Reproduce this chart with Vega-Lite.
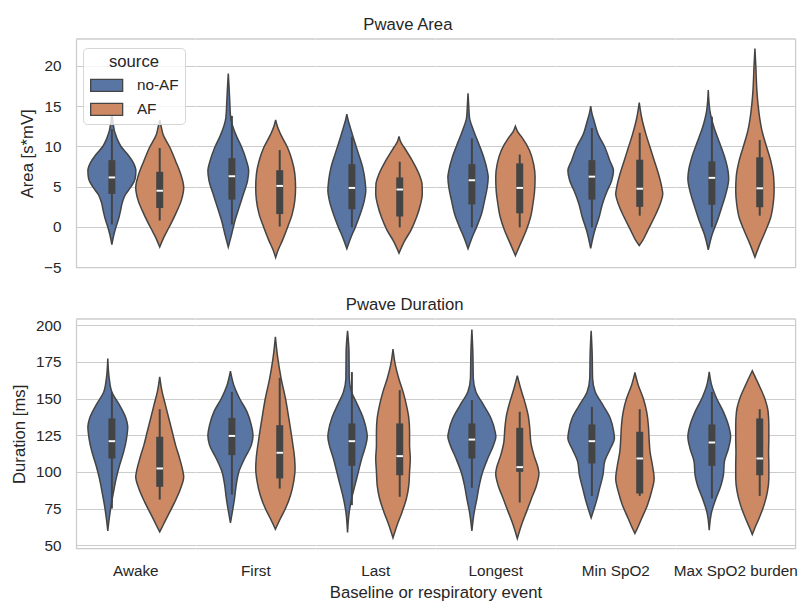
{
  "$schema": "https://vega.github.io/schema/vega-lite/v6.json",
  "background": "white",
  "autosize": {"type": "pad"},
  "padding": {"left": 11, "top": 17, "right": 5, "bottom": 0},
  "data": {"values": [
    {"panel":"Area","event":"Awake","source":"no-AF","value":15.0,"density":0},
    {"panel":"Area","event":"Awake","source":"no-AF","value":13,"density":0.04},
    {"panel":"Area","event":"Awake","source":"no-AF","value":11,"density":0.21},
    {"panel":"Area","event":"Awake","source":"no-AF","value":10,"density":0.38},
    {"panel":"Area","event":"Awake","source":"no-AF","value":9,"density":0.66},
    {"panel":"Area","event":"Awake","source":"no-AF","value":8,"density":0.89},
    {"panel":"Area","event":"Awake","source":"no-AF","value":7,"density":1.0},
    {"panel":"Area","event":"Awake","source":"no-AF","value":6,"density":0.97},
    {"panel":"Area","event":"Awake","source":"no-AF","value":5,"density":0.80},
    {"panel":"Area","event":"Awake","source":"no-AF","value":4,"density":0.56},
    {"panel":"Area","event":"Awake","source":"no-AF","value":3,"density":0.43},
    {"panel":"Area","event":"Awake","source":"no-AF","value":2,"density":0.36},
    {"panel":"Area","event":"Awake","source":"no-AF","value":1,"density":0.28},
    {"panel":"Area","event":"Awake","source":"no-AF","value":0,"density":0.17},
    {"panel":"Area","event":"Awake","source":"no-AF","value":-1,"density":0.08},
    {"panel":"Area","event":"Awake","source":"no-AF","value":-2.2,"density":0},
    {"panel":"Area","event":"Awake","source":"AF","value":13.3,"density":0},
    {"panel":"Area","event":"Awake","source":"AF","value":12.5,"density":0.06},
    {"panel":"Area","event":"Awake","source":"AF","value":11.5,"density":0.14},
    {"panel":"Area","event":"Awake","source":"AF","value":9.9,"density":0.42},
    {"panel":"Area","event":"Awake","source":"AF","value":8.2,"density":0.66},
    {"panel":"Area","event":"Awake","source":"AF","value":6.6,"density":0.87},
    {"panel":"Area","event":"Awake","source":"AF","value":4.9,"density":1.0},
    {"panel":"Area","event":"Awake","source":"AF","value":3.3,"density":0.90},
    {"panel":"Area","event":"Awake","source":"AF","value":1.6,"density":0.66},
    {"panel":"Area","event":"Awake","source":"AF","value":-0.1,"density":0.38},
    {"panel":"Area","event":"Awake","source":"AF","value":-1.3,"density":0.17},
    {"panel":"Area","event":"Awake","source":"AF","value":-2.5,"density":0},
    {"panel":"Area","event":"First","source":"no-AF","value":19.05,"density":0},
    {"panel":"Area","event":"First","source":"no-AF","value":17.5,"density":0.03},
    {"panel":"Area","event":"First","source":"no-AF","value":15.7,"density":0.06},
    {"panel":"Area","event":"First","source":"no-AF","value":13.6,"density":0.10},
    {"panel":"Area","event":"First","source":"no-AF","value":11.5,"density":0.31},
    {"panel":"Area","event":"First","source":"no-AF","value":9.9,"density":0.56},
    {"panel":"Area","event":"First","source":"no-AF","value":8.2,"density":0.76},
    {"panel":"Area","event":"First","source":"no-AF","value":7.0,"density":0.85},
    {"panel":"Area","event":"First","source":"no-AF","value":5.7,"density":0.80},
    {"panel":"Area","event":"First","source":"no-AF","value":4.1,"density":0.63},
    {"panel":"Area","event":"First","source":"no-AF","value":2.4,"density":0.45},
    {"panel":"Area","event":"First","source":"no-AF","value":0.8,"density":0.28},
    {"panel":"Area","event":"First","source":"no-AF","value":-0.9,"density":0.14},
    {"panel":"Area","event":"First","source":"no-AF","value":-2.5,"density":0},
    {"panel":"Area","event":"First","source":"AF","value":13.3,"density":0},
    {"panel":"Area","event":"First","source":"AF","value":12.5,"density":0.07},
    {"panel":"Area","event":"First","source":"AF","value":11.5,"density":0.21},
    {"panel":"Area","event":"First","source":"AF","value":9.9,"density":0.49},
    {"panel":"Area","event":"First","source":"AF","value":8.2,"density":0.69},
    {"panel":"Area","event":"First","source":"AF","value":6.6,"density":0.80},
    {"panel":"Area","event":"First","source":"AF","value":4.9,"density":0.83},
    {"panel":"Area","event":"First","source":"AF","value":3.3,"density":0.80},
    {"panel":"Area","event":"First","source":"AF","value":1.6,"density":0.69},
    {"panel":"Area","event":"First","source":"AF","value":-0.1,"density":0.49},
    {"panel":"Area","event":"First","source":"AF","value":-1.7,"density":0.28},
    {"panel":"Area","event":"First","source":"AF","value":-2.9,"density":0.10},
    {"panel":"Area","event":"First","source":"AF","value":-3.8,"density":0},
    {"panel":"Area","event":"Last","source":"no-AF","value":14.0,"density":0},
    {"panel":"Area","event":"Last","source":"no-AF","value":13.2,"density":0.06},
    {"panel":"Area","event":"Last","source":"no-AF","value":12.4,"density":0.14},
    {"panel":"Area","event":"Last","source":"no-AF","value":10.7,"density":0.31},
    {"panel":"Area","event":"Last","source":"no-AF","value":9.05,"density":0.49},
    {"panel":"Area","event":"Last","source":"no-AF","value":7.4,"density":0.66},
    {"panel":"Area","event":"Last","source":"no-AF","value":5.7,"density":0.76},
    {"panel":"Area","event":"Last","source":"no-AF","value":4.5,"density":0.79},
    {"panel":"Area","event":"Last","source":"no-AF","value":3.3,"density":0.73},
    {"panel":"Area","event":"Last","source":"no-AF","value":1.6,"density":0.56},
    {"panel":"Area","event":"Last","source":"no-AF","value":-0.05,"density":0.35},
    {"panel":"Area","event":"Last","source":"no-AF","value":-1.3,"density":0.17},
    {"panel":"Area","event":"Last","source":"no-AF","value":-2.7,"density":0},
    {"panel":"Area","event":"Last","source":"AF","value":11.25,"density":0},
    {"panel":"Area","event":"Last","source":"AF","value":10.5,"density":0.08},
    {"panel":"Area","event":"Last","source":"AF","value":9.9,"density":0.21},
    {"panel":"Area","event":"Last","source":"AF","value":8.2,"density":0.56},
    {"panel":"Area","event":"Last","source":"AF","value":6.6,"density":0.83},
    {"panel":"Area","event":"Last","source":"AF","value":5.3,"density":0.96},
    {"panel":"Area","event":"Last","source":"AF","value":4.1,"density":0.97},
    {"panel":"Area","event":"Last","source":"AF","value":2.85,"density":0.90},
    {"panel":"Area","event":"Last","source":"AF","value":1.2,"density":0.73},
    {"panel":"Area","event":"Last","source":"AF","value":-0.45,"density":0.49},
    {"panel":"Area","event":"Last","source":"AF","value":-1.7,"density":0.24},
    {"panel":"Area","event":"Last","source":"AF","value":-3.25,"density":0},
    {"panel":"Area","event":"Longest","source":"no-AF","value":16.6,"density":0},
    {"panel":"Area","event":"Longest","source":"no-AF","value":15,"density":0.03},
    {"panel":"Area","event":"Longest","source":"no-AF","value":13.6,"density":0.06},
    {"panel":"Area","event":"Longest","source":"no-AF","value":11.9,"density":0.24},
    {"panel":"Area","event":"Longest","source":"no-AF","value":10.3,"density":0.45},
    {"panel":"Area","event":"Longest","source":"no-AF","value":8.6,"density":0.66},
    {"panel":"Area","event":"Longest","source":"no-AF","value":7.0,"density":0.80},
    {"panel":"Area","event":"Longest","source":"no-AF","value":6.2,"density":0.84},
    {"panel":"Area","event":"Longest","source":"no-AF","value":4.9,"density":0.80},
    {"panel":"Area","event":"Longest","source":"no-AF","value":3.3,"density":0.69},
    {"panel":"Area","event":"Longest","source":"no-AF","value":1.6,"density":0.56},
    {"panel":"Area","event":"Longest","source":"no-AF","value":-0.05,"density":0.35},
    {"panel":"Area","event":"Longest","source":"no-AF","value":-1.3,"density":0.17},
    {"panel":"Area","event":"Longest","source":"no-AF","value":-2.7,"density":0},
    {"panel":"Area","event":"Longest","source":"AF","value":12.5,"density":0},
    {"panel":"Area","event":"Longest","source":"AF","value":11.8,"density":0.10},
    {"panel":"Area","event":"Longest","source":"AF","value":11.1,"density":0.28},
    {"panel":"Area","event":"Longest","source":"AF","value":9.5,"density":0.59},
    {"panel":"Area","event":"Longest","source":"AF","value":7.8,"density":0.76},
    {"panel":"Area","event":"Longest","source":"AF","value":6.2,"density":0.82},
    {"panel":"Area","event":"Longest","source":"AF","value":4.5,"density":0.80},
    {"panel":"Area","event":"Longest","source":"AF","value":2.85,"density":0.73},
    {"panel":"Area","event":"Longest","source":"AF","value":1.2,"density":0.63},
    {"panel":"Area","event":"Longest","source":"AF","value":-0.45,"density":0.45},
    {"panel":"Area","event":"Longest","source":"AF","value":-2.1,"density":0.21},
    {"panel":"Area","event":"Longest","source":"AF","value":-3.55,"density":0},
    {"panel":"Area","event":"Min SpO2","source":"no-AF","value":15.0,"density":0},
    {"panel":"Area","event":"Min SpO2","source":"no-AF","value":14,"density":0.06},
    {"panel":"Area","event":"Min SpO2","source":"no-AF","value":13.2,"density":0.14},
    {"panel":"Area","event":"Min SpO2","source":"no-AF","value":11.5,"density":0.31},
    {"panel":"Area","event":"Min SpO2","source":"no-AF","value":9.9,"density":0.59},
    {"panel":"Area","event":"Min SpO2","source":"no-AF","value":8.2,"density":0.80},
    {"panel":"Area","event":"Min SpO2","source":"no-AF","value":7.0,"density":0.95},
    {"panel":"Area","event":"Min SpO2","source":"no-AF","value":5.7,"density":0.87},
    {"panel":"Area","event":"Min SpO2","source":"no-AF","value":4.5,"density":0.69},
    {"panel":"Area","event":"Min SpO2","source":"no-AF","value":2.85,"density":0.49},
    {"panel":"Area","event":"Min SpO2","source":"no-AF","value":1.2,"density":0.35},
    {"panel":"Area","event":"Min SpO2","source":"no-AF","value":-0.45,"density":0.17},
    {"panel":"Area","event":"Min SpO2","source":"no-AF","value":-2.65,"density":0},
    {"panel":"Area","event":"Min SpO2","source":"AF","value":15.45,"density":0},
    {"panel":"Area","event":"Min SpO2","source":"AF","value":13.6,"density":0.10},
    {"panel":"Area","event":"Min SpO2","source":"AF","value":11.5,"density":0.28},
    {"panel":"Area","event":"Min SpO2","source":"AF","value":9.9,"density":0.45},
    {"panel":"Area","event":"Min SpO2","source":"AF","value":8.2,"density":0.63},
    {"panel":"Area","event":"Min SpO2","source":"AF","value":6.6,"density":0.80},
    {"panel":"Area","event":"Min SpO2","source":"AF","value":4.9,"density":0.94},
    {"panel":"Area","event":"Min SpO2","source":"AF","value":4.1,"density":0.98},
    {"panel":"Area","event":"Min SpO2","source":"AF","value":2.85,"density":0.87},
    {"panel":"Area","event":"Min SpO2","source":"AF","value":1.2,"density":0.63},
    {"panel":"Area","event":"Min SpO2","source":"AF","value":-0.45,"density":0.35},
    {"panel":"Area","event":"Min SpO2","source":"AF","value":-1.7,"density":0.14},
    {"panel":"Area","event":"Min SpO2","source":"AF","value":-2.3,"density":0},
    {"panel":"Area","event":"Max SpO2 burden","source":"no-AF","value":17.0,"density":0},
    {"panel":"Area","event":"Max SpO2 burden","source":"no-AF","value":14.4,"density":0.07},
    {"panel":"Area","event":"Max SpO2 burden","source":"no-AF","value":12.35,"density":0.24},
    {"panel":"Area","event":"Max SpO2 burden","source":"no-AF","value":10.3,"density":0.49},
    {"panel":"Area","event":"Max SpO2 burden","source":"no-AF","value":8.6,"density":0.69},
    {"panel":"Area","event":"Max SpO2 burden","source":"no-AF","value":7.0,"density":0.82},
    {"panel":"Area","event":"Max SpO2 burden","source":"no-AF","value":6.0,"density":0.85},
    {"panel":"Area","event":"Max SpO2 burden","source":"no-AF","value":4.1,"density":0.73},
    {"panel":"Area","event":"Max SpO2 burden","source":"no-AF","value":2.45,"density":0.56},
    {"panel":"Area","event":"Max SpO2 burden","source":"no-AF","value":0.8,"density":0.38},
    {"panel":"Area","event":"Max SpO2 burden","source":"no-AF","value":-0.85,"density":0.17},
    {"panel":"Area","event":"Max SpO2 burden","source":"no-AF","value":-2.85,"density":0},
    {"panel":"Area","event":"Max SpO2 burden","source":"AF","value":22.15,"density":0},
    {"panel":"Area","event":"Max SpO2 burden","source":"AF","value":19.8,"density":0.04},
    {"panel":"Area","event":"Max SpO2 burden","source":"AF","value":17,"density":0.08},
    {"panel":"Area","event":"Max SpO2 burden","source":"AF","value":15.2,"density":0.13},
    {"panel":"Area","event":"Max SpO2 burden","source":"AF","value":13.5,"density":0.20},
    {"panel":"Area","event":"Max SpO2 burden","source":"AF","value":12,"density":0.29},
    {"panel":"Area","event":"Max SpO2 burden","source":"AF","value":10.3,"density":0.45},
    {"panel":"Area","event":"Max SpO2 burden","source":"AF","value":8.2,"density":0.66},
    {"panel":"Area","event":"Max SpO2 burden","source":"AF","value":6.2,"density":0.78},
    {"panel":"Area","event":"Max SpO2 burden","source":"AF","value":4.5,"density":0.80},
    {"panel":"Area","event":"Max SpO2 burden","source":"AF","value":2.85,"density":0.76},
    {"panel":"Area","event":"Max SpO2 burden","source":"AF","value":1.2,"density":0.66},
    {"panel":"Area","event":"Max SpO2 burden","source":"AF","value":-0.45,"density":0.45},
    {"panel":"Area","event":"Max SpO2 burden","source":"AF","value":-2.1,"density":0.21},
    {"panel":"Area","event":"Max SpO2 burden","source":"AF","value":-3.75,"density":0},
    {"panel":"Duration","event":"Awake","source":"no-AF","value":177.3,"density":0},
    {"panel":"Duration","event":"Awake","source":"no-AF","value":163.6,"density":0.06},
    {"panel":"Duration","event":"Awake","source":"no-AF","value":154.5,"density":0.17},
    {"panel":"Duration","event":"Awake","source":"no-AF","value":145.5,"density":0.49},
    {"panel":"Duration","event":"Awake","source":"no-AF","value":136.4,"density":0.76},
    {"panel":"Duration","event":"Awake","source":"no-AF","value":130.7,"density":0.83},
    {"panel":"Duration","event":"Awake","source":"no-AF","value":122.7,"density":0.78},
    {"panel":"Duration","event":"Awake","source":"no-AF","value":113.6,"density":0.66},
    {"panel":"Duration","event":"Awake","source":"no-AF","value":104.5,"density":0.49},
    {"panel":"Duration","event":"Awake","source":"no-AF","value":95.5,"density":0.35},
    {"panel":"Duration","event":"Awake","source":"no-AF","value":86.4,"density":0.24},
    {"panel":"Duration","event":"Awake","source":"no-AF","value":77.3,"density":0.14},
    {"panel":"Duration","event":"Awake","source":"no-AF","value":68.2,"density":0.06},
    {"panel":"Duration","event":"Awake","source":"no-AF","value":59.8,"density":0},
    {"panel":"Duration","event":"Awake","source":"AF","value":164.8,"density":0},
    {"panel":"Duration","event":"Awake","source":"AF","value":154.5,"density":0.10},
    {"panel":"Duration","event":"Awake","source":"AF","value":145.5,"density":0.24},
    {"panel":"Duration","event":"Awake","source":"AF","value":136.4,"density":0.38},
    {"panel":"Duration","event":"Awake","source":"AF","value":127.3,"density":0.52},
    {"panel":"Duration","event":"Awake","source":"AF","value":118.2,"density":0.66},
    {"panel":"Duration","event":"Awake","source":"AF","value":109.1,"density":0.83},
    {"panel":"Duration","event":"Awake","source":"AF","value":100,"density":0.97},
    {"panel":"Duration","event":"Awake","source":"AF","value":96.6,"density":1.0},
    {"panel":"Duration","event":"Awake","source":"AF","value":88.6,"density":0.87},
    {"panel":"Duration","event":"Awake","source":"AF","value":79.5,"density":0.63},
    {"panel":"Duration","event":"Awake","source":"AF","value":70.5,"density":0.35},
    {"panel":"Duration","event":"Awake","source":"AF","value":63.6,"density":0.14},
    {"panel":"Duration","event":"Awake","source":"AF","value":59.1,"density":0},
    {"panel":"Duration","event":"First","source":"no-AF","value":168.6,"density":0},
    {"panel":"Duration","event":"First","source":"no-AF","value":159.1,"density":0.14},
    {"panel":"Duration","event":"First","source":"no-AF","value":150,"density":0.38},
    {"panel":"Duration","event":"First","source":"no-AF","value":140.9,"density":0.69},
    {"panel":"Duration","event":"First","source":"no-AF","value":131.8,"density":0.87},
    {"panel":"Duration","event":"First","source":"no-AF","value":125,"density":0.94},
    {"panel":"Duration","event":"First","source":"no-AF","value":118.2,"density":0.87},
    {"panel":"Duration","event":"First","source":"no-AF","value":109.1,"density":0.59},
    {"panel":"Duration","event":"First","source":"no-AF","value":100,"density":0.35},
    {"panel":"Duration","event":"First","source":"no-AF","value":90.9,"density":0.24},
    {"panel":"Duration","event":"First","source":"no-AF","value":81.8,"density":0.17},
    {"panel":"Duration","event":"First","source":"no-AF","value":72.7,"density":0.08},
    {"panel":"Duration","event":"First","source":"no-AF","value":65.2,"density":0},
    {"panel":"Duration","event":"First","source":"AF","value":192,"density":0},
    {"panel":"Duration","event":"First","source":"AF","value":177.3,"density":0.10},
    {"panel":"Duration","event":"First","source":"AF","value":163.6,"density":0.24},
    {"panel":"Duration","event":"First","source":"AF","value":150,"density":0.42},
    {"panel":"Duration","event":"First","source":"AF","value":136.4,"density":0.56},
    {"panel":"Duration","event":"First","source":"AF","value":122.7,"density":0.69},
    {"panel":"Duration","event":"First","source":"AF","value":109.1,"density":0.80},
    {"panel":"Duration","event":"First","source":"AF","value":102.3,"density":0.82},
    {"panel":"Duration","event":"First","source":"AF","value":93.2,"density":0.76},
    {"panel":"Duration","event":"First","source":"AF","value":84.1,"density":0.63},
    {"panel":"Duration","event":"First","source":"AF","value":75,"density":0.42},
    {"panel":"Duration","event":"First","source":"AF","value":68.2,"density":0.21},
    {"panel":"Duration","event":"First","source":"AF","value":60.9,"density":0},
    {"panel":"Duration","event":"Last","source":"no-AF","value":196.1,"density":0},
    {"panel":"Duration","event":"Last","source":"no-AF","value":181.8,"density":0.06},
    {"panel":"Duration","event":"Last","source":"no-AF","value":163.6,"density":0.07},
    {"panel":"Duration","event":"Last","source":"no-AF","value":154.5,"density":0.17},
    {"panel":"Duration","event":"Last","source":"no-AF","value":145.5,"density":0.42},
    {"panel":"Duration","event":"Last","source":"no-AF","value":136.4,"density":0.66},
    {"panel":"Duration","event":"Last","source":"no-AF","value":127.3,"density":0.80},
    {"panel":"Duration","event":"Last","source":"no-AF","value":123.9,"density":0.82},
    {"panel":"Duration","event":"Last","source":"no-AF","value":118.2,"density":0.76},
    {"panel":"Duration","event":"Last","source":"no-AF","value":109.1,"density":0.59},
    {"panel":"Duration","event":"Last","source":"no-AF","value":100,"density":0.45},
    {"panel":"Duration","event":"Last","source":"no-AF","value":90.9,"density":0.31},
    {"panel":"Duration","event":"Last","source":"no-AF","value":81.8,"density":0.17},
    {"panel":"Duration","event":"Last","source":"no-AF","value":72.7,"density":0.07},
    {"panel":"Duration","event":"Last","source":"no-AF","value":58.6,"density":0},
    {"panel":"Duration","event":"Last","source":"AF","value":183.6,"density":0},
    {"panel":"Duration","event":"Last","source":"AF","value":172.7,"density":0.10},
    {"panel":"Duration","event":"Last","source":"AF","value":163.6,"density":0.24},
    {"panel":"Duration","event":"Last","source":"AF","value":154.5,"density":0.42},
    {"panel":"Duration","event":"Last","source":"AF","value":145.5,"density":0.56},
    {"panel":"Duration","event":"Last","source":"AF","value":136.4,"density":0.66},
    {"panel":"Duration","event":"Last","source":"AF","value":127.3,"density":0.69},
    {"panel":"Duration","event":"Last","source":"AF","value":118.2,"density":0.69},
    {"panel":"Duration","event":"Last","source":"AF","value":109.1,"density":0.72},
    {"panel":"Duration","event":"Last","source":"AF","value":100,"density":0.69},
    {"panel":"Duration","event":"Last","source":"AF","value":90.9,"density":0.66},
    {"panel":"Duration","event":"Last","source":"AF","value":81.8,"density":0.56},
    {"panel":"Duration","event":"Last","source":"AF","value":72.7,"density":0.38},
    {"panel":"Duration","event":"Last","source":"AF","value":63.6,"density":0.17},
    {"panel":"Duration","event":"Last","source":"AF","value":55,"density":0},
    {"panel":"Duration","event":"Longest","source":"no-AF","value":197,"density":0},
    {"panel":"Duration","event":"Longest","source":"no-AF","value":181.8,"density":0.04},
    {"panel":"Duration","event":"Longest","source":"no-AF","value":163.6,"density":0.06},
    {"panel":"Duration","event":"Longest","source":"no-AF","value":154.5,"density":0.17},
    {"panel":"Duration","event":"Longest","source":"no-AF","value":145.5,"density":0.49},
    {"panel":"Duration","event":"Longest","source":"no-AF","value":136.4,"density":0.80},
    {"panel":"Duration","event":"Longest","source":"no-AF","value":127.3,"density":0.97},
    {"panel":"Duration","event":"Longest","source":"no-AF","value":123.9,"density":1.0},
    {"panel":"Duration","event":"Longest","source":"no-AF","value":118.2,"density":0.90},
    {"panel":"Duration","event":"Longest","source":"no-AF","value":109.1,"density":0.66},
    {"panel":"Duration","event":"Longest","source":"no-AF","value":100,"density":0.45},
    {"panel":"Duration","event":"Longest","source":"no-AF","value":90.9,"density":0.31},
    {"panel":"Duration","event":"Longest","source":"no-AF","value":81.8,"density":0.21},
    {"panel":"Duration","event":"Longest","source":"no-AF","value":72.7,"density":0.10},
    {"panel":"Duration","event":"Longest","source":"no-AF","value":59.8,"density":0},
    {"panel":"Duration","event":"Longest","source":"AF","value":165.5,"density":0},
    {"panel":"Duration","event":"Longest","source":"AF","value":156.8,"density":0.14},
    {"panel":"Duration","event":"Longest","source":"AF","value":147.7,"density":0.31},
    {"panel":"Duration","event":"Longest","source":"AF","value":138.6,"density":0.45},
    {"panel":"Duration","event":"Longest","source":"AF","value":129.5,"density":0.52},
    {"panel":"Duration","event":"Longest","source":"AF","value":120.5,"density":0.56},
    {"panel":"Duration","event":"Longest","source":"AF","value":111.4,"density":0.69},
    {"panel":"Duration","event":"Longest","source":"AF","value":102.3,"density":0.87},
    {"panel":"Duration","event":"Longest","source":"AF","value":98.9,"density":0.90},
    {"panel":"Duration","event":"Longest","source":"AF","value":90.9,"density":0.80},
    {"panel":"Duration","event":"Longest","source":"AF","value":81.8,"density":0.59},
    {"panel":"Duration","event":"Longest","source":"AF","value":72.7,"density":0.38},
    {"panel":"Duration","event":"Longest","source":"AF","value":63.6,"density":0.17},
    {"panel":"Duration","event":"Longest","source":"AF","value":54.5,"density":0},
    {"panel":"Duration","event":"Min SpO2","source":"no-AF","value":196.1,"density":0},
    {"panel":"Duration","event":"Min SpO2","source":"no-AF","value":181.8,"density":0.04},
    {"panel":"Duration","event":"Min SpO2","source":"no-AF","value":163.6,"density":0.06},
    {"panel":"Duration","event":"Min SpO2","source":"no-AF","value":154.5,"density":0.17},
    {"panel":"Duration","event":"Min SpO2","source":"no-AF","value":145.5,"density":0.49},
    {"panel":"Duration","event":"Min SpO2","source":"no-AF","value":136.4,"density":0.80},
    {"panel":"Duration","event":"Min SpO2","source":"no-AF","value":127.3,"density":0.94},
    {"panel":"Duration","event":"Min SpO2","source":"no-AF","value":122.7,"density":0.97},
    {"panel":"Duration","event":"Min SpO2","source":"no-AF","value":115.9,"density":0.80},
    {"panel":"Duration","event":"Min SpO2","source":"no-AF","value":106.8,"density":0.56},
    {"panel":"Duration","event":"Min SpO2","source":"no-AF","value":97.7,"density":0.49},
    {"panel":"Duration","event":"Min SpO2","source":"no-AF","value":88.6,"density":0.35},
    {"panel":"Duration","event":"Min SpO2","source":"no-AF","value":79.5,"density":0.21},
    {"panel":"Duration","event":"Min SpO2","source":"no-AF","value":72.7,"density":0.08},
    {"panel":"Duration","event":"Min SpO2","source":"no-AF","value":68.6,"density":0},
    {"panel":"Duration","event":"Min SpO2","source":"AF","value":167.7,"density":0},
    {"panel":"Duration","event":"Min SpO2","source":"AF","value":159.1,"density":0.14},
    {"panel":"Duration","event":"Min SpO2","source":"AF","value":150,"density":0.35},
    {"panel":"Duration","event":"Min SpO2","source":"AF","value":140.9,"density":0.49},
    {"panel":"Duration","event":"Min SpO2","source":"AF","value":131.8,"density":0.56},
    {"panel":"Duration","event":"Min SpO2","source":"AF","value":122.7,"density":0.59},
    {"panel":"Duration","event":"Min SpO2","source":"AF","value":113.6,"density":0.63},
    {"panel":"Duration","event":"Min SpO2","source":"AF","value":104.5,"density":0.73},
    {"panel":"Duration","event":"Min SpO2","source":"AF","value":95.5,"density":0.80},
    {"panel":"Duration","event":"Min SpO2","source":"AF","value":86.4,"density":0.69},
    {"panel":"Duration","event":"Min SpO2","source":"AF","value":77.3,"density":0.52},
    {"panel":"Duration","event":"Min SpO2","source":"AF","value":68.2,"density":0.28},
    {"panel":"Duration","event":"Min SpO2","source":"AF","value":61.4,"density":0.10},
    {"panel":"Duration","event":"Min SpO2","source":"AF","value":58,"density":0},
    {"panel":"Duration","event":"Max SpO2 burden","source":"no-AF","value":168.2,"density":0},
    {"panel":"Duration","event":"Max SpO2 burden","source":"no-AF","value":159.1,"density":0.10},
    {"panel":"Duration","event":"Max SpO2 burden","source":"no-AF","value":150,"density":0.31},
    {"panel":"Duration","event":"Max SpO2 burden","source":"no-AF","value":140.9,"density":0.59},
    {"panel":"Duration","event":"Max SpO2 burden","source":"no-AF","value":131.8,"density":0.80},
    {"panel":"Duration","event":"Max SpO2 burden","source":"no-AF","value":123.9,"density":0.89},
    {"panel":"Duration","event":"Max SpO2 burden","source":"no-AF","value":115.9,"density":0.80},
    {"panel":"Duration","event":"Max SpO2 burden","source":"no-AF","value":106.8,"density":0.63},
    {"panel":"Duration","event":"Max SpO2 burden","source":"no-AF","value":97.7,"density":0.59},
    {"panel":"Duration","event":"Max SpO2 burden","source":"no-AF","value":90.9,"density":0.49},
    {"panel":"Duration","event":"Max SpO2 burden","source":"no-AF","value":81.8,"density":0.28},
    {"panel":"Duration","event":"Max SpO2 burden","source":"no-AF","value":72.7,"density":0.10},
    {"panel":"Duration","event":"Max SpO2 burden","source":"no-AF","value":60.2,"density":0},
    {"panel":"Duration","event":"Max SpO2 burden","source":"AF","value":168.9,"density":0},
    {"panel":"Duration","event":"Max SpO2 burden","source":"AF","value":159.1,"density":0.28},
    {"panel":"Duration","event":"Max SpO2 burden","source":"AF","value":150,"density":0.52},
    {"panel":"Duration","event":"Max SpO2 burden","source":"AF","value":140.9,"density":0.66},
    {"panel":"Duration","event":"Max SpO2 burden","source":"AF","value":131.8,"density":0.69},
    {"panel":"Duration","event":"Max SpO2 burden","source":"AF","value":122.7,"density":0.69},
    {"panel":"Duration","event":"Max SpO2 burden","source":"AF","value":113.6,"density":0.68},
    {"panel":"Duration","event":"Max SpO2 burden","source":"AF","value":104.5,"density":0.69},
    {"panel":"Duration","event":"Max SpO2 burden","source":"AF","value":95.5,"density":0.69},
    {"panel":"Duration","event":"Max SpO2 burden","source":"AF","value":86.4,"density":0.63},
    {"panel":"Duration","event":"Max SpO2 burden","source":"AF","value":77.3,"density":0.49},
    {"panel":"Duration","event":"Max SpO2 burden","source":"AF","value":68.2,"density":0.28},
    {"panel":"Duration","event":"Max SpO2 burden","source":"AF","value":61.4,"density":0.10},
    {"panel":"Duration","event":"Max SpO2 burden","source":"AF","value":57.3,"density":0},
    {"panel":"Area","event":"Awake","source":"no-AF","lo":0.3,"q1":4.1,"med":6.15,"q3":8.3,"hi":12.15},
    {"panel":"Area","event":"Awake","source":"AF","lo":0.8,"q1":2.35,"med":4.5,"q3":6.85,"hi":9.8},
    {"panel":"Area","event":"First","source":"no-AF","lo":0.3,"q1":3.4,"med":6.3,"q3":8.55,"hi":13.8},
    {"panel":"Area","event":"First","source":"AF","lo":0.05,"q1":1.6,"med":5.1,"q3":7.05,"hi":9.55},
    {"panel":"Area","event":"Last","source":"no-AF","lo":-0.05,"q1":2.2,"med":4.85,"q3":7.8,"hi":11.2},
    {"panel":"Area","event":"Last","source":"AF","lo":-0.05,"q1":1.3,"med":4.65,"q3":6.15,"hi":8.1},
    {"panel":"Area","event":"Longest","source":"no-AF","lo":-0.05,"q1":2.8,"med":5.8,"q3":7.8,"hi":11.0},
    {"panel":"Area","event":"Longest","source":"AF","lo":-0.05,"q1":1.7,"med":4.85,"q3":7.9,"hi":9.0},
    {"panel":"Area","event":"Min SpO2","source":"no-AF","lo":-0.05,"q1":3.4,"med":6.25,"q3":8.3,"hi":12.3},
    {"panel":"Area","event":"Min SpO2","source":"AF","lo":1.4,"q1":2.5,"med":4.75,"q3":8.35,"hi":11.7},
    {"panel":"Area","event":"Max SpO2 burden","source":"no-AF","lo":-0.05,"q1":2.75,"med":6.1,"q3":8.15,"hi":13.7},
    {"panel":"Area","event":"Max SpO2 burden","source":"AF","lo":1.4,"q1":2.45,"med":4.8,"q3":8.65,"hi":10.8},
    {"panel":"Duration","event":"Awake","source":"no-AF","lo":75,"q1":109.1,"med":120.9,"q3":136.4,"hi":154.5},
    {"panel":"Duration","event":"Awake","source":"AF","lo":81.1,"q1":89.8,"med":102.3,"q3":123.9,"hi":142.7},
    {"panel":"Duration","event":"First","source":"no-AF","lo":84.5,"q1":111.4,"med":124.5,"q3":136.8,"hi":154.5},
    {"panel":"Duration","event":"First","source":"AF","lo":88.6,"q1":95.5,"med":113,"q3":131.8,"hi":164.1},
    {"panel":"Duration","event":"Last","source":"no-AF","lo":77.3,"q1":104.1,"med":120.9,"q3":133,"hi":168},
    {"panel":"Duration","event":"Last","source":"AF","lo":83,"q1":97.7,"med":110.7,"q3":133,"hi":155.7},
    {"panel":"Duration","event":"Longest","source":"no-AF","lo":89.1,"q1":109.1,"med":122,"q3":133,"hi":148.9},
    {"panel":"Duration","event":"Longest","source":"AF","lo":79.1,"q1":100,"med":103.2,"q3":130,"hi":140.9},
    {"panel":"Duration","event":"Min SpO2","source":"no-AF","lo":83.6,"q1":105.7,"med":120.9,"q3":132.3,"hi":144.3},
    {"panel":"Duration","event":"Min SpO2","source":"AF","lo":83.6,"q1":85.2,"med":109.1,"q3":127.3,"hi":142.7},
    {"panel":"Duration","event":"Max SpO2 burden","source":"no-AF","lo":81.8,"q1":104.1,"med":120,"q3":132.3,"hi":154.5},
    {"panel":"Duration","event":"Max SpO2 burden","source":"AF","lo":83.6,"q1":97.7,"med":109.1,"q3":136.4,"hi":142.7}
  ]},
  "vconcat": [
    {
      "title": {"text": "Pwave Area"},
      "transform": [{"filter": "datum.panel == 'Area'"}],
      "facet": {"column": {"field": "event", "type": "nominal", "sort": ["Awake","First","Last","Longest","Min SpO2","Max SpO2 burden"], "header": {"labels": false, "title": null}}},
      "spacing": 0,
      "bounds": "flush",
      "spec": {
        "width": 119.6,
        "height": 228.6,
        "encoding": {
          "y": {"type": "quantitative", "scale": {"domain": [-5.05, 23.35], "nice": false, "zero": false}, "axis": {"title": "Area [s*mV]", "values": [-5,0,5,10,15,20]}}
        },
        "layer": [
          {
            "transform": [{"filter": "datum.source == 'no-AF' && isValid(datum.med)"}],
            "mark": {"type": "rule", "color": "#cccccc", "strokeWidth": 1.3},
            "encoding": {"y": {"datum": 23.35, "type": "quantitative"}}
          },
          {
            "transform": [{"filter": "datum.source == 'no-AF' && isValid(datum.med)"}],
            "mark": {"type": "rule", "color": "#cccccc", "strokeWidth": 1.3},
            "encoding": {"y": {"datum": -5.05, "type": "quantitative"}}
          },
          {
            "transform": [{"filter": "datum.source == 'no-AF' && isValid(datum.density)"}],
            "mark": {"type": "area", "orient": "horizontal", "interpolate": "monotone", "stroke": "#444444", "strokeWidth": 1.5, "fillOpacity": 1},
            "encoding": {
              "y": {"field": "value", "type": "quantitative"},
              "x": {"field": "density", "type": "quantitative", "stack": "center", "impute": null, "scale": {"domain": [-0.2475, 2.2442], "nice": false, "zero": false}, "axis": null},
              "color": {"field": "source", "type": "nominal", "scale": {"domain": ["no-AF", "AF"], "range": ["#5875a4", "#cc8963"]}}
            }
          },
          {
            "transform": [{"filter": "datum.source == 'AF' && isValid(datum.density)"}],
            "mark": {"type": "area", "orient": "horizontal", "interpolate": "monotone", "stroke": "#444444", "strokeWidth": 1.5, "fillOpacity": 1},
            "encoding": {
              "y": {"field": "value", "type": "quantitative"},
              "x": {"field": "density", "type": "quantitative", "stack": "center", "impute": null, "scale": {"domain": [-1.2442, 1.2475], "nice": false, "zero": false}, "axis": null},
              "color": {"field": "source", "type": "nominal", "scale": {"domain": ["no-AF", "AF"], "range": ["#5875a4", "#cc8963"]}}
            }
          },
          {
            "transform": [{"filter": "datum.source == 'no-AF' && isValid(datum.med)"}],
            "mark": {"type": "rule", "color": "#444444", "strokeWidth": 2},
            "encoding": {
              "x": {"datum": 0.5, "type": "quantitative", "scale": {"domain": [-0.2475, 2.2442], "nice": false, "zero": false}, "axis": null},
              "y": {"field": "lo", "type": "quantitative"},
              "y2": {"field": "hi"}
            }
          },
          {
            "transform": [{"filter": "datum.source == 'AF' && isValid(datum.med)"}],
            "mark": {"type": "rule", "color": "#444444", "strokeWidth": 2},
            "encoding": {
              "x": {"datum": 0.5, "type": "quantitative", "scale": {"domain": [-1.2442, 1.2475], "nice": false, "zero": false}, "axis": null},
              "y": {"field": "lo", "type": "quantitative"},
              "y2": {"field": "hi"}
            }
          },
          {
            "transform": [{"filter": "datum.source == 'no-AF' && isValid(datum.med)"}],
            "mark": {"type": "rule", "color": "#444444", "strokeWidth": 7, "strokeCap": "butt"},
            "encoding": {
              "x": {"datum": 0.5, "type": "quantitative", "scale": {"domain": [-0.2475, 2.2442], "nice": false, "zero": false}, "axis": null},
              "y": {"field": "q1", "type": "quantitative"},
              "y2": {"field": "q3"}
            }
          },
          {
            "transform": [{"filter": "datum.source == 'AF' && isValid(datum.med)"}],
            "mark": {"type": "rule", "color": "#444444", "strokeWidth": 7, "strokeCap": "butt"},
            "encoding": {
              "x": {"datum": 0.5, "type": "quantitative", "scale": {"domain": [-1.2442, 1.2475], "nice": false, "zero": false}, "axis": null},
              "y": {"field": "q1", "type": "quantitative"},
              "y2": {"field": "q3"}
            }
          },
          {
            "transform": [{"filter": "datum.source == 'no-AF' && isValid(datum.med)"}],
            "mark": {"type": "point", "shape": "M-1,-0.3H1V0.3H-1Z", "filled": true, "color": "white", "opacity": 1, "size": 42, "strokeWidth": 0},
            "encoding": {
              "x": {"datum": 0.5, "type": "quantitative", "scale": {"domain": [-0.2475, 2.2442], "nice": false, "zero": false}, "axis": null},
              "y": {"field": "med", "type": "quantitative"}
            }
          },
          {
            "transform": [{"filter": "datum.source == 'AF' && isValid(datum.med)"}],
            "mark": {"type": "point", "shape": "M-1,-0.3H1V0.3H-1Z", "filled": true, "color": "white", "opacity": 1, "size": 42, "strokeWidth": 0},
            "encoding": {
              "x": {"datum": 0.5, "type": "quantitative", "scale": {"domain": [-1.2442, 1.2475], "nice": false, "zero": false}, "axis": null},
              "y": {"field": "med", "type": "quantitative"}
            }
          },
          {
            "transform": [{"filter": "datum.source == 'AF' && isValid(datum.med) && datum.event == 'Max SpO2 burden'"}],
            "mark": {"type": "rule", "color": "#cccccc", "strokeWidth": 1.3},
            "encoding": {
              "x": {"datum": 1.2475, "type": "quantitative", "scale": {"domain": [-1.2442, 1.2475], "nice": false, "zero": false}, "axis": null}
            }
          }
        ],
        "resolve": {"scale": {"x": "independent"}}
      }
    },
    {
      "title": {"text": "Pwave Duration"},
      "transform": [{"filter": "datum.panel == 'Duration'"}],
      "facet": {"column": {"field": "event", "type": "nominal", "sort": ["Awake","First","Last","Longest","Min SpO2","Max SpO2 burden"], "header": {"labelOrient": "bottom", "title": "Baseline or respiratory event", "titleOrient": "bottom"}}},
      "spacing": 0,
      "bounds": "flush",
      "spec": {
        "width": 119.6,
        "height": 229.7,
        "encoding": {
          "y": {"type": "quantitative", "scale": {"domain": [47.6, 204.2], "nice": false, "zero": false}, "axis": {"title": "Duration [ms]", "values": [50,75,100,125,150,175,200]}}
        },
        "layer": [
          {
            "transform": [{"filter": "datum.source == 'no-AF' && isValid(datum.med)"}],
            "mark": {"type": "rule", "color": "#cccccc", "strokeWidth": 1.3},
            "encoding": {"y": {"datum": 204.2, "type": "quantitative"}}
          },
          {
            "transform": [{"filter": "datum.source == 'no-AF' && isValid(datum.med)"}],
            "mark": {"type": "rule", "color": "#cccccc", "strokeWidth": 1.3},
            "encoding": {"y": {"datum": 47.6, "type": "quantitative"}}
          },
          {
            "transform": [{"filter": "datum.source == 'no-AF' && isValid(datum.density)"}],
            "mark": {"type": "area", "orient": "horizontal", "interpolate": "monotone", "stroke": "#444444", "strokeWidth": 1.5, "fillOpacity": 1},
            "encoding": {
              "y": {"field": "value", "type": "quantitative"},
              "x": {"field": "density", "type": "quantitative", "stack": "center", "impute": null, "scale": {"domain": [-0.2475, 2.2442], "nice": false, "zero": false}, "axis": null},
              "color": {"field": "source", "type": "nominal", "scale": {"domain": ["no-AF", "AF"], "range": ["#5875a4", "#cc8963"]}}
            }
          },
          {
            "transform": [{"filter": "datum.source == 'AF' && isValid(datum.density)"}],
            "mark": {"type": "area", "orient": "horizontal", "interpolate": "monotone", "stroke": "#444444", "strokeWidth": 1.5, "fillOpacity": 1},
            "encoding": {
              "y": {"field": "value", "type": "quantitative"},
              "x": {"field": "density", "type": "quantitative", "stack": "center", "impute": null, "scale": {"domain": [-1.2442, 1.2475], "nice": false, "zero": false}, "axis": null},
              "color": {"field": "source", "type": "nominal", "scale": {"domain": ["no-AF", "AF"], "range": ["#5875a4", "#cc8963"]}}
            }
          },
          {
            "transform": [{"filter": "datum.source == 'no-AF' && isValid(datum.med)"}],
            "mark": {"type": "rule", "color": "#444444", "strokeWidth": 2},
            "encoding": {
              "x": {"datum": 0.5, "type": "quantitative", "scale": {"domain": [-0.2475, 2.2442], "nice": false, "zero": false}, "axis": null},
              "y": {"field": "lo", "type": "quantitative"},
              "y2": {"field": "hi"}
            }
          },
          {
            "transform": [{"filter": "datum.source == 'AF' && isValid(datum.med)"}],
            "mark": {"type": "rule", "color": "#444444", "strokeWidth": 2},
            "encoding": {
              "x": {"datum": 0.5, "type": "quantitative", "scale": {"domain": [-1.2442, 1.2475], "nice": false, "zero": false}, "axis": null},
              "y": {"field": "lo", "type": "quantitative"},
              "y2": {"field": "hi"}
            }
          },
          {
            "transform": [{"filter": "datum.source == 'no-AF' && isValid(datum.med)"}],
            "mark": {"type": "rule", "color": "#444444", "strokeWidth": 7, "strokeCap": "butt"},
            "encoding": {
              "x": {"datum": 0.5, "type": "quantitative", "scale": {"domain": [-0.2475, 2.2442], "nice": false, "zero": false}, "axis": null},
              "y": {"field": "q1", "type": "quantitative"},
              "y2": {"field": "q3"}
            }
          },
          {
            "transform": [{"filter": "datum.source == 'AF' && isValid(datum.med)"}],
            "mark": {"type": "rule", "color": "#444444", "strokeWidth": 7, "strokeCap": "butt"},
            "encoding": {
              "x": {"datum": 0.5, "type": "quantitative", "scale": {"domain": [-1.2442, 1.2475], "nice": false, "zero": false}, "axis": null},
              "y": {"field": "q1", "type": "quantitative"},
              "y2": {"field": "q3"}
            }
          },
          {
            "transform": [{"filter": "datum.source == 'no-AF' && isValid(datum.med)"}],
            "mark": {"type": "point", "shape": "M-1,-0.3H1V0.3H-1Z", "filled": true, "color": "white", "opacity": 1, "size": 42, "strokeWidth": 0},
            "encoding": {
              "x": {"datum": 0.5, "type": "quantitative", "scale": {"domain": [-0.2475, 2.2442], "nice": false, "zero": false}, "axis": null},
              "y": {"field": "med", "type": "quantitative"}
            }
          },
          {
            "transform": [{"filter": "datum.source == 'AF' && isValid(datum.med)"}],
            "mark": {"type": "point", "shape": "M-1,-0.3H1V0.3H-1Z", "filled": true, "color": "white", "opacity": 1, "size": 42, "strokeWidth": 0},
            "encoding": {
              "x": {"datum": 0.5, "type": "quantitative", "scale": {"domain": [-1.2442, 1.2475], "nice": false, "zero": false}, "axis": null},
              "y": {"field": "med", "type": "quantitative"}
            }
          },
          {
            "transform": [{"filter": "datum.source == 'AF' && isValid(datum.med) && datum.event == 'Max SpO2 burden'"}],
            "mark": {"type": "rule", "color": "#cccccc", "strokeWidth": 1.3},
            "encoding": {
              "x": {"datum": 1.2475, "type": "quantitative", "scale": {"domain": [-1.2442, 1.2475], "nice": false, "zero": false}, "axis": null}
            }
          }
        ],
        "resolve": {"scale": {"x": "independent"}}
      }
    }
  ],
  "spacing": 20,
  "config": {
    "font": "Liberation Sans",
    "view": {"stroke": null},
    "title": {"fontSize": 16.7, "fontWeight": "normal", "color": "#262626", "font": "Liberation Sans", "anchor": "middle", "offset": 4.5},
    "axisY": {"grid": true, "gridColor": "#cccccc", "gridWidth": 1.2, "domain": true, "domainColor": "#cccccc", "domainWidth": 1.3, "ticks": false, "labelPadding": 15, "labelFontSize": 15.3, "labelFont": "Liberation Sans", "labelColor": "#262626", "titleFontSize": 16.7, "titleFontWeight": "normal", "titleFont": "Liberation Sans", "titleColor": "#262626", "titlePadding": 7},
    "header": {"labelFontSize": 15.3, "labelFont": "Liberation Sans", "labelColor": "#262626", "labelPadding": 15, "titleFontSize": 16.7, "titleFont": "Liberation Sans", "titleFontWeight": "normal", "titleColor": "#262626", "titlePadding": -5},
    "legend": {"orient": "none", "legendX": 7, "legendY": 9, "titleFontSize": 16.7, "titleFont": "Liberation Sans", "titleFontWeight": "normal", "titleColor": "#262626", "titleAnchor": "middle", "labelFontSize": 15.3, "labelFont": "Liberation Sans", "labelColor": "#262626", "symbolType": "M-1,-1H4.333V1H-1Z", "symbolSize": 144, "symbolStrokeColor": "#444444", "symbolStrokeWidth": 1.3, "symbolOpacity": 1, "fillColor": "rgba(255,255,255,0.8)", "strokeColor": "#d6d6d6", "cornerRadius": 4, "padding": 6, "rowPadding": 6, "labelOffset": 32.6, "titlePadding": 7}
  }
}
